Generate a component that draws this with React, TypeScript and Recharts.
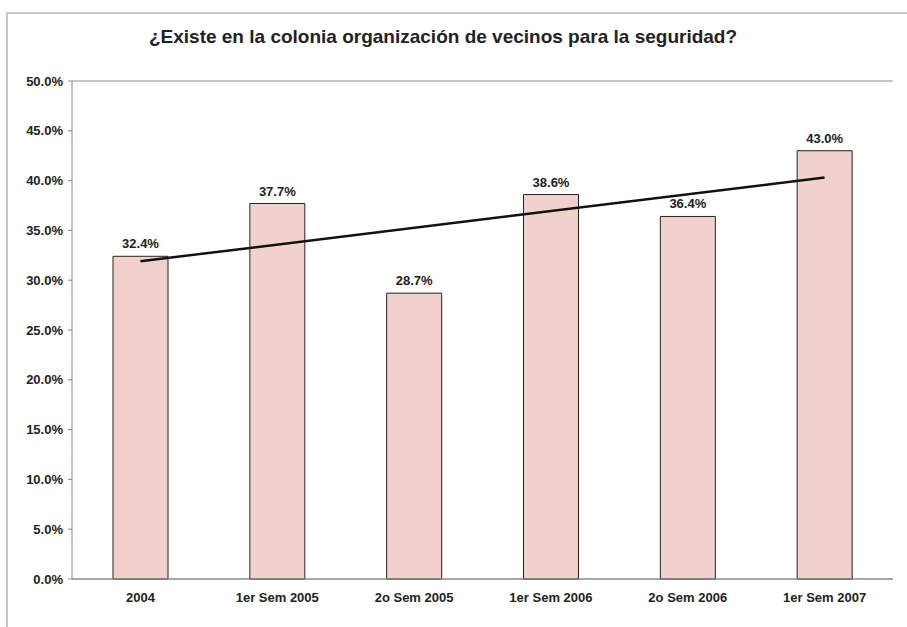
import {
  ComposedChart,
  Bar,
  Line,
  XAxis,
  YAxis,
  CartesianGrid,
  LabelList,
} from "recharts";

const periods = ["2004", "1er Sem 2005", "2o Sem 2005", "1er Sem 2006", "2o Sem 2006", "1er Sem 2007"];
const shares = [32.4, 37.7, 28.7, 38.6, 36.4, 43.0];
// trend line ends (middle points left empty)
const trend = [31.9, null, null, null, null, 40.3];
const yTicks = [0, 5, 10, 15, 20, 25, 30, 35, 40, 45, 50];

const data = periods.map((p, i) => ({ period: p, share: shares[i], trend: trend[i] }));

const FONT = "'Liberation Sans', Arial, sans-serif";
const pct = (v: number) => `${v.toFixed(1)}%`;
const tickStyle = { fontSize: 13, fontWeight: "bold", fill: "#222", fontFamily: FONT };

export default function App() {
  return (
    <div style={{ position: "absolute", left: 0, top: 0, width: 907, height: 627, background: "#fff", fontFamily: FONT }}>
      {/* outer frame */}
      <div
        style={{
          position: "absolute",
          left: 6,
          top: 12,
          right: 0,
          bottom: 0,
          borderTop: "2px solid #c8c8c8",
          borderLeft: "2px solid #c8c8c8",
        }}
      />
      <div
        style={{
          position: "absolute",
          left: 0,
          top: 26,
          width: 886,
          textAlign: "center",
          fontSize: 19,
          fontWeight: "bold",
          color: "#222",
        }}
      >
        ¿Existe en la colonia organización de vecinos para la seguridad?
      </div>
      <div style={{ position: "absolute", left: 0, top: 0 }}>
        <ComposedChart
          width={907}
          height={627}
          data={data}
          margin={{ top: 81, right: 14, left: 12, bottom: 18 }}
          barSize={55}
        >
          <CartesianGrid vertical={false} stroke="#b4b4b4" strokeWidth={1.5} />
          <XAxis
            dataKey="period"
            height={30}
            tickLine={false}
            tickSize={0}
            tickMargin={14}
            axisLine={{ stroke: "#888" }}
            tick={tickStyle}
            interval={0}
          />
          <YAxis
            yAxisId="l"
            domain={[0, 50]}
            ticks={yTicks}
            tickFormatter={pct}
            width={60}
            tickSize={4}
            tickMargin={5}
            axisLine={{ stroke: "#888" }}
            tickLine={{ stroke: "#888" }}
            tick={tickStyle}
            interval={0}
          />
          <YAxis
            yAxisId="r"
            orientation="right"
            domain={[0, 50]}
            width={0}
            tick={false}
            tickLine={false}
            axisLine={{ stroke: "#888" }}
          />
          <Bar yAxisId="l" dataKey="share" fill="#f1d1cc" stroke="#222" strokeWidth={1} isAnimationActive={false}>
            <LabelList
              dataKey="share"
              position="top"
              offset={8}
              formatter={(v: number) => pct(v)}
              style={tickStyle}
            />
          </Bar>
          <Line
            yAxisId="l"
            dataKey="trend"
            connectNulls
            stroke="#111"
            strokeWidth={2.5}
            dot={false}
            activeDot={false}
            isAnimationActive={false}
          />
        </ComposedChart>
      </div>
    </div>
  );
}
